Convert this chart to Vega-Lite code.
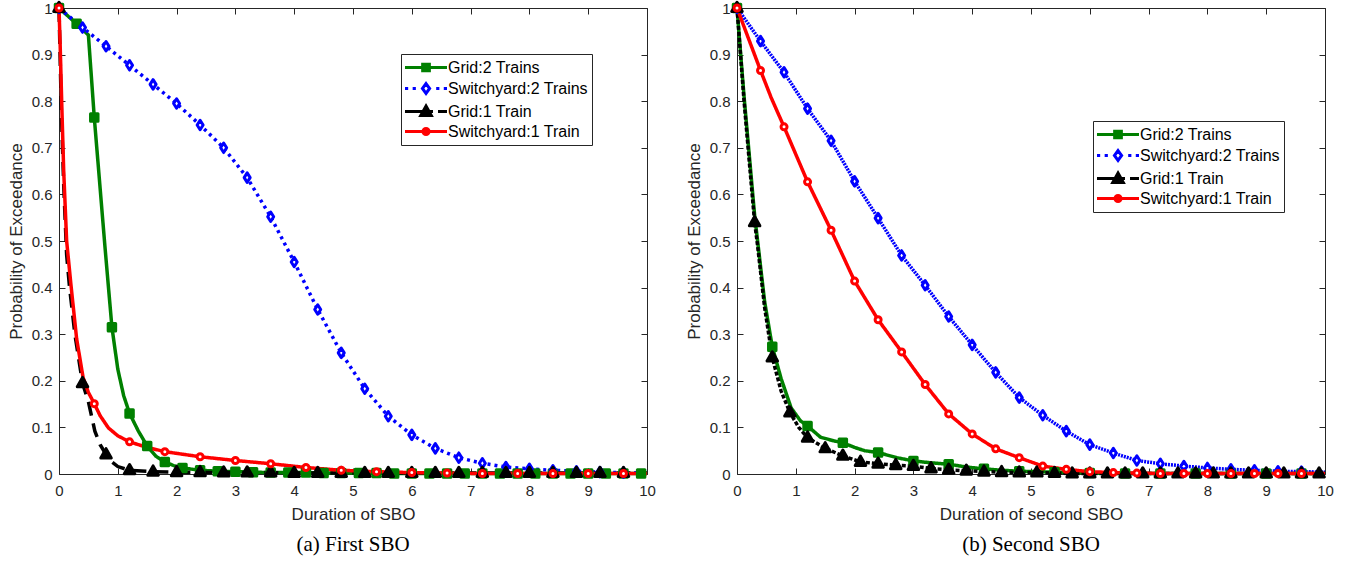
{
  "$schema": "https://vega.github.io/schema/vega-lite/v6.json",
  "background": "white",
  "padding": {"left": 6, "top": 0, "right": 10, "bottom": 5},
  "spacing": 28,
  "config": {
    "view": {"stroke": "#262626", "strokeWidth": 1},
    "font": "Liberation Sans",
    "axis": {"grid": false, "domain": false, "tickColor": "#262626", "tickSize": -6, "tickWidth": 1, "labelColor": "#262626", "labelFont": "Liberation Sans", "labelFontSize": 15, "labelFlush": false, "labelOverlap": false, "titleFont": "Liberation Sans", "titleFontSize": 17, "titleFontWeight": "normal", "titleColor": "#262626"},
    "title": {"font": "Liberation Serif", "fontSize": 21, "fontWeight": "normal", "color": "black"}
  },
  "datasets": {
    "a_curve": [
      {"series":"Grid:2 Trains","x":0,"p":1},{"series":"Grid:2 Trains","x":0.3,"p":0.966},{"series":"Grid:2 Trains","x":0.5,"p":0.942},{"series":"Grid:2 Trains","x":0.6,"p":0.765},{"series":"Grid:2 Trains","x":0.78,"p":0.49},{"series":"Grid:2 Trains","x":0.9,"p":0.315},{"series":"Grid:2 Trains","x":1.0,"p":0.225},{"series":"Grid:2 Trains","x":1.1,"p":0.168},{"series":"Grid:2 Trains","x":1.2,"p":0.13},{"series":"Grid:2 Trains","x":1.35,"p":0.092},{"series":"Grid:2 Trains","x":1.5,"p":0.06},{"series":"Grid:2 Trains","x":1.65,"p":0.038},{"series":"Grid:2 Trains","x":1.8,"p":0.026},{"series":"Grid:2 Trains","x":1.95,"p":0.018},{"series":"Grid:2 Trains","x":2.1,"p":0.013},{"series":"Grid:2 Trains","x":2.4,"p":0.008},{"series":"Grid:2 Trains","x":2.7,"p":0.006},{"series":"Grid:2 Trains","x":3.0,"p":0.005},{"series":"Grid:2 Trains","x":3.3,"p":0.004},{"series":"Grid:2 Trains","x":3.6,"p":0.003},{"series":"Grid:2 Trains","x":4.2,"p":0.003},{"series":"Grid:2 Trains","x":4.5,"p":0.002},{"series":"Grid:2 Trains","x":5.4,"p":0.002},{"series":"Grid:2 Trains","x":5.7,"p":0.001},{"series":"Grid:2 Trains","x":10,"p":0.001},
      {"series":"Switchyard:2 Trains","x":0,"p":1},{"series":"Switchyard:2 Trains","x":0.4,"p":0.958},{"series":"Switchyard:2 Trains","x":0.8,"p":0.918},{"series":"Switchyard:2 Trains","x":1.2,"p":0.877},{"series":"Switchyard:2 Trains","x":1.6,"p":0.836},{"series":"Switchyard:2 Trains","x":2.0,"p":0.795},{"series":"Switchyard:2 Trains","x":2.4,"p":0.749},{"series":"Switchyard:2 Trains","x":2.8,"p":0.7},{"series":"Switchyard:2 Trains","x":3.2,"p":0.636},{"series":"Switchyard:2 Trains","x":3.6,"p":0.552},{"series":"Switchyard:2 Trains","x":4.0,"p":0.455},{"series":"Switchyard:2 Trains","x":4.4,"p":0.353},{"series":"Switchyard:2 Trains","x":4.8,"p":0.26},{"series":"Switchyard:2 Trains","x":5.2,"p":0.183},{"series":"Switchyard:2 Trains","x":5.6,"p":0.124},{"series":"Switchyard:2 Trains","x":6.0,"p":0.084},{"series":"Switchyard:2 Trains","x":6.4,"p":0.055},{"series":"Switchyard:2 Trains","x":6.8,"p":0.035},{"series":"Switchyard:2 Trains","x":7.2,"p":0.023},{"series":"Switchyard:2 Trains","x":7.6,"p":0.015},{"series":"Switchyard:2 Trains","x":8.0,"p":0.011},{"series":"Switchyard:2 Trains","x":8.4,"p":0.008},{"series":"Switchyard:2 Trains","x":8.8,"p":0.006},{"series":"Switchyard:2 Trains","x":9.2,"p":0.004},{"series":"Switchyard:2 Trains","x":9.6,"p":0.003},{"series":"Switchyard:2 Trains","x":10,"p":0.002},
      {"series":"Grid:1 Train","x":0,"p":1},{"series":"Grid:1 Train","x":0.04,"p":0.78},{"series":"Grid:1 Train","x":0.08,"p":0.62},{"series":"Grid:1 Train","x":0.13,"p":0.47},{"series":"Grid:1 Train","x":0.18,"p":0.4},{"series":"Grid:1 Train","x":0.27,"p":0.3},{"series":"Grid:1 Train","x":0.4,"p":0.195},{"series":"Grid:1 Train","x":0.5,"p":0.155},{"series":"Grid:1 Train","x":0.61,"p":0.092},{"series":"Grid:1 Train","x":0.7,"p":0.063},{"series":"Grid:1 Train","x":0.8,"p":0.042},{"series":"Grid:1 Train","x":0.9,"p":0.026},{"series":"Grid:1 Train","x":1.0,"p":0.016},{"series":"Grid:1 Train","x":1.2,"p":0.008},{"series":"Grid:1 Train","x":1.6,"p":0.005},{"series":"Grid:1 Train","x":2.0,"p":0.004},{"series":"Grid:1 Train","x":2.4,"p":0.004},{"series":"Grid:1 Train","x":2.8,"p":0.003},{"series":"Grid:1 Train","x":3.6,"p":0.003},{"series":"Grid:1 Train","x":4.0,"p":0.002},{"series":"Grid:1 Train","x":10,"p":0.002},
      {"series":"Switchyard:1 Train","x":0,"p":1},{"series":"Switchyard:1 Train","x":0.02,"p":0.92},{"series":"Switchyard:1 Train","x":0.05,"p":0.78},{"series":"Switchyard:1 Train","x":0.08,"p":0.65},{"series":"Switchyard:1 Train","x":0.13,"p":0.5},{"series":"Switchyard:1 Train","x":0.2,"p":0.41},{"series":"Switchyard:1 Train","x":0.3,"p":0.29},{"series":"Switchyard:1 Train","x":0.41,"p":0.207},{"series":"Switchyard:1 Train","x":0.5,"p":0.175},{"series":"Switchyard:1 Train","x":0.6,"p":0.151},{"series":"Switchyard:1 Train","x":0.7,"p":0.125},{"series":"Switchyard:1 Train","x":0.84,"p":0.099},{"series":"Switchyard:1 Train","x":1.0,"p":0.082},{"series":"Switchyard:1 Train","x":1.2,"p":0.069},{"series":"Switchyard:1 Train","x":1.5,"p":0.057},{"series":"Switchyard:1 Train","x":1.8,"p":0.048},{"series":"Switchyard:1 Train","x":2.4,"p":0.037},{"series":"Switchyard:1 Train","x":3.0,"p":0.029},{"series":"Switchyard:1 Train","x":3.6,"p":0.022},{"series":"Switchyard:1 Train","x":4.2,"p":0.014},{"series":"Switchyard:1 Train","x":4.8,"p":0.008},{"series":"Switchyard:1 Train","x":5.4,"p":0.005},{"series":"Switchyard:1 Train","x":6.0,"p":0.003},{"series":"Switchyard:1 Train","x":6.6,"p":0.002},{"series":"Switchyard:1 Train","x":7.2,"p":0.001},{"series":"Switchyard:1 Train","x":10,"p":0.001}
    ],
    "a_mark": [
      {"series":"Grid:2 Trains","x":0,"p":1},{"series":"Grid:2 Trains","x":0.3,"p":0.966},{"series":"Grid:2 Trains","x":0.6,"p":0.765},{"series":"Grid:2 Trains","x":0.9,"p":0.315},{"series":"Grid:2 Trains","x":1.2,"p":0.13},{"series":"Grid:2 Trains","x":1.5,"p":0.06},{"series":"Grid:2 Trains","x":1.8,"p":0.026},{"series":"Grid:2 Trains","x":2.1,"p":0.013},{"series":"Grid:2 Trains","x":2.4,"p":0.008},{"series":"Grid:2 Trains","x":2.7,"p":0.006},{"series":"Grid:2 Trains","x":3.0,"p":0.005},{"series":"Grid:2 Trains","x":3.3,"p":0.004},{"series":"Grid:2 Trains","x":3.6,"p":0.003},{"series":"Grid:2 Trains","x":3.9,"p":0.003},{"series":"Grid:2 Trains","x":4.2,"p":0.003},{"series":"Grid:2 Trains","x":4.5,"p":0.002},{"series":"Grid:2 Trains","x":4.8,"p":0.002},{"series":"Grid:2 Trains","x":5.1,"p":0.002},{"series":"Grid:2 Trains","x":5.4,"p":0.002},{"series":"Grid:2 Trains","x":5.7,"p":0.001},{"series":"Grid:2 Trains","x":6.0,"p":0.001},{"series":"Grid:2 Trains","x":6.3,"p":0.001},{"series":"Grid:2 Trains","x":6.6,"p":0.001},{"series":"Grid:2 Trains","x":6.9,"p":0.001},{"series":"Grid:2 Trains","x":7.2,"p":0.001},{"series":"Grid:2 Trains","x":7.5,"p":0.001},{"series":"Grid:2 Trains","x":7.8,"p":0.001},{"series":"Grid:2 Trains","x":8.1,"p":0.001},{"series":"Grid:2 Trains","x":8.4,"p":0.001},{"series":"Grid:2 Trains","x":8.7,"p":0.001},{"series":"Grid:2 Trains","x":9.0,"p":0.001},{"series":"Grid:2 Trains","x":9.3,"p":0.001},{"series":"Grid:2 Trains","x":9.6,"p":0.001},{"series":"Grid:2 Trains","x":9.9,"p":0.001},
      {"series":"Switchyard:2 Trains","x":0,"p":1},{"series":"Switchyard:2 Trains","x":0.4,"p":0.958},{"series":"Switchyard:2 Trains","x":0.8,"p":0.918},{"series":"Switchyard:2 Trains","x":1.2,"p":0.877},{"series":"Switchyard:2 Trains","x":1.6,"p":0.836},{"series":"Switchyard:2 Trains","x":2.0,"p":0.795},{"series":"Switchyard:2 Trains","x":2.4,"p":0.749},{"series":"Switchyard:2 Trains","x":2.8,"p":0.7},{"series":"Switchyard:2 Trains","x":3.2,"p":0.636},{"series":"Switchyard:2 Trains","x":3.6,"p":0.552},{"series":"Switchyard:2 Trains","x":4.0,"p":0.455},{"series":"Switchyard:2 Trains","x":4.4,"p":0.353},{"series":"Switchyard:2 Trains","x":4.8,"p":0.26},{"series":"Switchyard:2 Trains","x":5.2,"p":0.183},{"series":"Switchyard:2 Trains","x":5.6,"p":0.124},{"series":"Switchyard:2 Trains","x":6.0,"p":0.084},{"series":"Switchyard:2 Trains","x":6.4,"p":0.055},{"series":"Switchyard:2 Trains","x":6.8,"p":0.035},{"series":"Switchyard:2 Trains","x":7.2,"p":0.023},{"series":"Switchyard:2 Trains","x":7.6,"p":0.015},{"series":"Switchyard:2 Trains","x":8.0,"p":0.011},{"series":"Switchyard:2 Trains","x":8.4,"p":0.008},{"series":"Switchyard:2 Trains","x":8.8,"p":0.006},{"series":"Switchyard:2 Trains","x":9.2,"p":0.004},{"series":"Switchyard:2 Trains","x":9.6,"p":0.003},
      {"series":"Grid:1 Train","x":0,"p":1},{"series":"Grid:1 Train","x":0.4,"p":0.195},{"series":"Grid:1 Train","x":0.8,"p":0.042},{"series":"Grid:1 Train","x":1.2,"p":0.008},{"series":"Grid:1 Train","x":1.6,"p":0.005},{"series":"Grid:1 Train","x":2.0,"p":0.004},{"series":"Grid:1 Train","x":2.4,"p":0.004},{"series":"Grid:1 Train","x":2.8,"p":0.003},{"series":"Grid:1 Train","x":3.2,"p":0.003},{"series":"Grid:1 Train","x":3.6,"p":0.003},{"series":"Grid:1 Train","x":4.0,"p":0.002},{"series":"Grid:1 Train","x":4.4,"p":0.002},{"series":"Grid:1 Train","x":4.8,"p":0.002},{"series":"Grid:1 Train","x":5.2,"p":0.002},{"series":"Grid:1 Train","x":5.6,"p":0.002},{"series":"Grid:1 Train","x":6.0,"p":0.002},{"series":"Grid:1 Train","x":6.4,"p":0.002},{"series":"Grid:1 Train","x":6.8,"p":0.002},{"series":"Grid:1 Train","x":7.2,"p":0.002},{"series":"Grid:1 Train","x":7.6,"p":0.002},{"series":"Grid:1 Train","x":8.0,"p":0.002},{"series":"Grid:1 Train","x":8.4,"p":0.002},{"series":"Grid:1 Train","x":8.8,"p":0.002},{"series":"Grid:1 Train","x":9.2,"p":0.002},{"series":"Grid:1 Train","x":9.6,"p":0.002},
      {"series":"Switchyard:1 Train","x":0,"p":1},{"series":"Switchyard:1 Train","x":0.6,"p":0.151},{"series":"Switchyard:1 Train","x":1.2,"p":0.069},{"series":"Switchyard:1 Train","x":1.8,"p":0.048},{"series":"Switchyard:1 Train","x":2.4,"p":0.037},{"series":"Switchyard:1 Train","x":3.0,"p":0.029},{"series":"Switchyard:1 Train","x":3.6,"p":0.022},{"series":"Switchyard:1 Train","x":4.2,"p":0.014},{"series":"Switchyard:1 Train","x":4.8,"p":0.008},{"series":"Switchyard:1 Train","x":5.4,"p":0.005},{"series":"Switchyard:1 Train","x":6.0,"p":0.003},{"series":"Switchyard:1 Train","x":6.6,"p":0.002},{"series":"Switchyard:1 Train","x":7.2,"p":0.001},{"series":"Switchyard:1 Train","x":7.8,"p":0.001},{"series":"Switchyard:1 Train","x":8.4,"p":0.001},{"series":"Switchyard:1 Train","x":9.0,"p":0.001},{"series":"Switchyard:1 Train","x":9.6,"p":0.001}
    ],
    "b_curve": [
      {"series":"Grid:2 Trains","x":0,"p":1},{"series":"Grid:2 Trains","x":0.12,"p":0.81},{"series":"Grid:2 Trains","x":0.24,"p":0.64},{"series":"Grid:2 Trains","x":0.3,"p":0.555},{"series":"Grid:2 Trains","x":0.47,"p":0.37},{"series":"Grid:2 Trains","x":0.6,"p":0.273},{"series":"Grid:2 Trains","x":0.75,"p":0.205},{"series":"Grid:2 Trains","x":0.92,"p":0.142},{"series":"Grid:2 Trains","x":1.08,"p":0.114},{"series":"Grid:2 Trains","x":1.2,"p":0.103},{"series":"Grid:2 Trains","x":1.42,"p":0.079},{"series":"Grid:2 Trains","x":1.65,"p":0.071},{"series":"Grid:2 Trains","x":1.8,"p":0.067},{"series":"Grid:2 Trains","x":2.0,"p":0.057},{"series":"Grid:2 Trains","x":2.17,"p":0.05},{"series":"Grid:2 Trains","x":2.4,"p":0.046},{"series":"Grid:2 Trains","x":2.72,"p":0.035},{"series":"Grid:2 Trains","x":3.0,"p":0.028},{"series":"Grid:2 Trains","x":3.3,"p":0.024},{"series":"Grid:2 Trains","x":3.6,"p":0.021},{"series":"Grid:2 Trains","x":3.9,"p":0.015},{"series":"Grid:2 Trains","x":4.2,"p":0.011},{"series":"Grid:2 Trains","x":4.5,"p":0.008},{"series":"Grid:2 Trains","x":4.8,"p":0.006},{"series":"Grid:2 Trains","x":5.4,"p":0.004},{"series":"Grid:2 Trains","x":6.0,"p":0.002},{"series":"Grid:2 Trains","x":6.6,"p":0.001},{"series":"Grid:2 Trains","x":10,"p":0.001},
      {"series":"Switchyard:2 Trains","x":0,"p":1},{"series":"Switchyard:2 Trains","x":0.4,"p":0.929},{"series":"Switchyard:2 Trains","x":0.8,"p":0.862},{"series":"Switchyard:2 Trains","x":1.2,"p":0.784},{"series":"Switchyard:2 Trains","x":1.6,"p":0.715},{"series":"Switchyard:2 Trains","x":2.0,"p":0.628},{"series":"Switchyard:2 Trains","x":2.4,"p":0.549},{"series":"Switchyard:2 Trains","x":2.8,"p":0.469},{"series":"Switchyard:2 Trains","x":3.2,"p":0.405},{"series":"Switchyard:2 Trains","x":3.6,"p":0.338},{"series":"Switchyard:2 Trains","x":4.0,"p":0.277},{"series":"Switchyard:2 Trains","x":4.4,"p":0.218},{"series":"Switchyard:2 Trains","x":4.8,"p":0.164},{"series":"Switchyard:2 Trains","x":5.2,"p":0.126},{"series":"Switchyard:2 Trains","x":5.6,"p":0.092},{"series":"Switchyard:2 Trains","x":6.0,"p":0.063},{"series":"Switchyard:2 Trains","x":6.4,"p":0.045},{"series":"Switchyard:2 Trains","x":6.8,"p":0.029},{"series":"Switchyard:2 Trains","x":7.2,"p":0.022},{"series":"Switchyard:2 Trains","x":7.6,"p":0.017},{"series":"Switchyard:2 Trains","x":8.0,"p":0.013},{"series":"Switchyard:2 Trains","x":8.4,"p":0.01},{"series":"Switchyard:2 Trains","x":8.8,"p":0.008},{"series":"Switchyard:2 Trains","x":9.2,"p":0.006},{"series":"Switchyard:2 Trains","x":9.6,"p":0.005},{"series":"Switchyard:2 Trains","x":10,"p":0.004},
      {"series":"Grid:1 Train","x":0,"p":1},{"series":"Grid:1 Train","x":0.12,"p":0.8},{"series":"Grid:1 Train","x":0.24,"p":0.625},{"series":"Grid:1 Train","x":0.3,"p":0.54},{"series":"Grid:1 Train","x":0.35,"p":0.49},{"series":"Grid:1 Train","x":0.47,"p":0.357},{"series":"Grid:1 Train","x":0.6,"p":0.25},{"series":"Grid:1 Train","x":0.75,"p":0.178},{"series":"Grid:1 Train","x":0.9,"p":0.132},{"series":"Grid:1 Train","x":1.05,"p":0.1},{"series":"Grid:1 Train","x":1.2,"p":0.078},{"series":"Grid:1 Train","x":1.5,"p":0.055},{"series":"Grid:1 Train","x":1.8,"p":0.039},{"series":"Grid:1 Train","x":2.1,"p":0.026},{"series":"Grid:1 Train","x":2.4,"p":0.022},{"series":"Grid:1 Train","x":2.7,"p":0.019},{"series":"Grid:1 Train","x":3.0,"p":0.017},{"series":"Grid:1 Train","x":3.3,"p":0.012},{"series":"Grid:1 Train","x":3.6,"p":0.009},{"series":"Grid:1 Train","x":3.9,"p":0.007},{"series":"Grid:1 Train","x":4.2,"p":0.005},{"series":"Grid:1 Train","x":4.5,"p":0.004},{"series":"Grid:1 Train","x":4.8,"p":0.003},{"series":"Grid:1 Train","x":5.1,"p":0.003},{"series":"Grid:1 Train","x":5.4,"p":0.002},{"series":"Grid:1 Train","x":5.7,"p":0.001},{"series":"Grid:1 Train","x":10,"p":0.001},
      {"series":"Switchyard:1 Train","x":0,"p":1},{"series":"Switchyard:1 Train","x":0.4,"p":0.866},{"series":"Switchyard:1 Train","x":0.58,"p":0.808},{"series":"Switchyard:1 Train","x":0.8,"p":0.745},{"series":"Switchyard:1 Train","x":1.2,"p":0.627},{"series":"Switchyard:1 Train","x":1.6,"p":0.523},{"series":"Switchyard:1 Train","x":2.0,"p":0.414},{"series":"Switchyard:1 Train","x":2.4,"p":0.331},{"series":"Switchyard:1 Train","x":2.8,"p":0.262},{"series":"Switchyard:1 Train","x":3.2,"p":0.192},{"series":"Switchyard:1 Train","x":3.6,"p":0.129},{"series":"Switchyard:1 Train","x":4.0,"p":0.086},{"series":"Switchyard:1 Train","x":4.4,"p":0.054},{"series":"Switchyard:1 Train","x":4.8,"p":0.035},{"series":"Switchyard:1 Train","x":5.2,"p":0.017},{"series":"Switchyard:1 Train","x":5.6,"p":0.01},{"series":"Switchyard:1 Train","x":6.0,"p":0.005},{"series":"Switchyard:1 Train","x":6.4,"p":0.003},{"series":"Switchyard:1 Train","x":6.8,"p":0.002},{"series":"Switchyard:1 Train","x":7.2,"p":0.001},{"series":"Switchyard:1 Train","x":10,"p":0.001}
    ],
    "b_mark": [
      {"series":"Grid:2 Trains","x":0,"p":1},{"series":"Grid:2 Trains","x":0.6,"p":0.273},{"series":"Grid:2 Trains","x":1.2,"p":0.103},{"series":"Grid:2 Trains","x":1.8,"p":0.067},{"series":"Grid:2 Trains","x":2.4,"p":0.046},{"series":"Grid:2 Trains","x":3.0,"p":0.028},{"series":"Grid:2 Trains","x":3.6,"p":0.021},{"series":"Grid:2 Trains","x":4.2,"p":0.011},{"series":"Grid:2 Trains","x":4.8,"p":0.006},{"series":"Grid:2 Trains","x":5.4,"p":0.004},{"series":"Grid:2 Trains","x":6.0,"p":0.002},{"series":"Grid:2 Trains","x":6.6,"p":0.001},{"series":"Grid:2 Trains","x":7.2,"p":0.001},{"series":"Grid:2 Trains","x":7.8,"p":0.001},{"series":"Grid:2 Trains","x":8.4,"p":0.001},{"series":"Grid:2 Trains","x":9.0,"p":0.001},{"series":"Grid:2 Trains","x":9.6,"p":0.001},
      {"series":"Switchyard:2 Trains","x":0,"p":1},{"series":"Switchyard:2 Trains","x":0.4,"p":0.929},{"series":"Switchyard:2 Trains","x":0.8,"p":0.862},{"series":"Switchyard:2 Trains","x":1.2,"p":0.784},{"series":"Switchyard:2 Trains","x":1.6,"p":0.715},{"series":"Switchyard:2 Trains","x":2.0,"p":0.628},{"series":"Switchyard:2 Trains","x":2.4,"p":0.549},{"series":"Switchyard:2 Trains","x":2.8,"p":0.469},{"series":"Switchyard:2 Trains","x":3.2,"p":0.405},{"series":"Switchyard:2 Trains","x":3.6,"p":0.338},{"series":"Switchyard:2 Trains","x":4.0,"p":0.277},{"series":"Switchyard:2 Trains","x":4.4,"p":0.218},{"series":"Switchyard:2 Trains","x":4.8,"p":0.164},{"series":"Switchyard:2 Trains","x":5.2,"p":0.126},{"series":"Switchyard:2 Trains","x":5.6,"p":0.092},{"series":"Switchyard:2 Trains","x":6.0,"p":0.063},{"series":"Switchyard:2 Trains","x":6.4,"p":0.045},{"series":"Switchyard:2 Trains","x":6.8,"p":0.029},{"series":"Switchyard:2 Trains","x":7.2,"p":0.022},{"series":"Switchyard:2 Trains","x":7.6,"p":0.017},{"series":"Switchyard:2 Trains","x":8.0,"p":0.013},{"series":"Switchyard:2 Trains","x":8.4,"p":0.01},{"series":"Switchyard:2 Trains","x":8.8,"p":0.008},{"series":"Switchyard:2 Trains","x":9.2,"p":0.006},{"series":"Switchyard:2 Trains","x":9.6,"p":0.005},
      {"series":"Grid:1 Train","x":0,"p":1},{"series":"Grid:1 Train","x":0.3,"p":0.54},{"series":"Grid:1 Train","x":0.6,"p":0.25},{"series":"Grid:1 Train","x":0.9,"p":0.132},{"series":"Grid:1 Train","x":1.2,"p":0.078},{"series":"Grid:1 Train","x":1.5,"p":0.055},{"series":"Grid:1 Train","x":1.8,"p":0.039},{"series":"Grid:1 Train","x":2.1,"p":0.026},{"series":"Grid:1 Train","x":2.4,"p":0.022},{"series":"Grid:1 Train","x":2.7,"p":0.019},{"series":"Grid:1 Train","x":3.0,"p":0.017},{"series":"Grid:1 Train","x":3.3,"p":0.012},{"series":"Grid:1 Train","x":3.6,"p":0.009},{"series":"Grid:1 Train","x":3.9,"p":0.007},{"series":"Grid:1 Train","x":4.2,"p":0.005},{"series":"Grid:1 Train","x":4.5,"p":0.004},{"series":"Grid:1 Train","x":4.8,"p":0.003},{"series":"Grid:1 Train","x":5.1,"p":0.003},{"series":"Grid:1 Train","x":5.4,"p":0.002},{"series":"Grid:1 Train","x":5.7,"p":0.001},{"series":"Grid:1 Train","x":6.0,"p":0.001},{"series":"Grid:1 Train","x":6.3,"p":0.001},{"series":"Grid:1 Train","x":6.6,"p":0.001},{"series":"Grid:1 Train","x":6.9,"p":0.001},{"series":"Grid:1 Train","x":7.2,"p":0.001},{"series":"Grid:1 Train","x":7.5,"p":0.001},{"series":"Grid:1 Train","x":7.8,"p":0.001},{"series":"Grid:1 Train","x":8.1,"p":0.001},{"series":"Grid:1 Train","x":8.4,"p":0.001},{"series":"Grid:1 Train","x":8.7,"p":0.001},{"series":"Grid:1 Train","x":9.0,"p":0.001},{"series":"Grid:1 Train","x":9.3,"p":0.001},{"series":"Grid:1 Train","x":9.6,"p":0.001},{"series":"Grid:1 Train","x":9.9,"p":0.001},
      {"series":"Switchyard:1 Train","x":0,"p":1},{"series":"Switchyard:1 Train","x":0.4,"p":0.866},{"series":"Switchyard:1 Train","x":0.8,"p":0.745},{"series":"Switchyard:1 Train","x":1.2,"p":0.627},{"series":"Switchyard:1 Train","x":1.6,"p":0.523},{"series":"Switchyard:1 Train","x":2.0,"p":0.414},{"series":"Switchyard:1 Train","x":2.4,"p":0.331},{"series":"Switchyard:1 Train","x":2.8,"p":0.262},{"series":"Switchyard:1 Train","x":3.2,"p":0.192},{"series":"Switchyard:1 Train","x":3.6,"p":0.129},{"series":"Switchyard:1 Train","x":4.0,"p":0.086},{"series":"Switchyard:1 Train","x":4.4,"p":0.054},{"series":"Switchyard:1 Train","x":4.8,"p":0.035},{"series":"Switchyard:1 Train","x":5.2,"p":0.017},{"series":"Switchyard:1 Train","x":5.6,"p":0.01},{"series":"Switchyard:1 Train","x":6.0,"p":0.005},{"series":"Switchyard:1 Train","x":6.4,"p":0.003},{"series":"Switchyard:1 Train","x":6.8,"p":0.002},{"series":"Switchyard:1 Train","x":7.2,"p":0.001},{"series":"Switchyard:1 Train","x":7.6,"p":0.001},{"series":"Switchyard:1 Train","x":8.0,"p":0.001},{"series":"Switchyard:1 Train","x":8.4,"p":0.001},{"series":"Switchyard:1 Train","x":8.8,"p":0.001},{"series":"Switchyard:1 Train","x":9.2,"p":0.001},{"series":"Switchyard:1 Train","x":9.6,"p":0.001}
    ]
  },
  "resolve": {"scale": {"x": "independent", "y": "independent", "color": "independent", "strokeDash": "independent", "shape": "independent", "fill": "independent", "stroke": "independent"}, "legend": {"color": "independent"}},
  "hconcat": [
    {
      "title": {"text": "(a) First SBO", "orient": "bottom", "anchor": "middle", "offset": 12},
      "width": 588,
      "height": 466,
      "resolve": {"axis": {"x": "independent", "y": "independent"}},
      "layer": [
        {
          "data": {"name": "a_curve"},
          "mark": {"type": "line", "strokeWidth": 3.5},
          "encoding": {
            "x": {"field": "x", "type": "quantitative", "scale": {"domain": [0, 10], "nice": false, "zero": false}, "axis": {"values": [0,1,2,3,4,5,6,7,8,9,10], "title": "Duration of SBO", "labelPadding": 15, "titlePadding": 8}},
            "y": {"field": "p", "type": "quantitative", "scale": {"domain": [0, 1], "nice": false}, "axis": {"values": [0,0.1,0.2,0.3,0.4,0.5,0.6,0.7,0.8,0.9,1], "format": "~g", "title": "Probability of Exceedance", "labelPadding": 13, "titlePadding": 6}},
            "color": {
              "field": "series", "type": "nominal",
              "scale": {"domain": ["Grid:2 Trains", "Switchyard:2 Trains", "Grid:1 Train", "Switchyard:1 Train"], "range": ["#008000", "#0000ff", "#000000", "#ff0000"]},
              "legend": {
                "orient": "none", "legendX": 342, "legendY": 46, "title": null,
                "symbolSize": 256, "symbolStrokeWidth": 3, "labelOffset": 24, "labelFont": "Liberation Sans", "labelFontSize": 16, "labelColor": "black",
                "padding": 4, "rowPadding": 0, "strokeColor": "#262626", "fillColor": "white",
                "encoding": {
                  "symbols": {
                    "shape": {"value": {"expr": "datum.value === 'Grid:2 Trains' ? 'M-1.19,0L4.06,0M1.02,-0.42L1.86,-0.42L1.86,0.42L1.02,0.42Z' : datum.value === 'Switchyard:2 Trains' ? 'M-1.19,0L-0.79,0M-0.23,0L0.17,0M2.71,0L3.11,0M3.66,0L4.06,0M1.44,-0.62L1.89,0L1.44,0.62L0.99,0Z' : datum.value === 'Grid:1 Train' ? 'M-1.19,0L2.31,0M2.94,0L4.06,0M1.44,-0.68L2.1,0.5L0.78,0.5Z' : 'M-1.19,0L4.06,0M1.06,0A0.38,0.38 0 1,1 1.82,0A0.38,0.38 0 1,1 1.06,0Z'"}},
                    "fill": {"value": {"expr": "datum.value === 'Grid:2 Trains' ? '#008000' : datum.value === 'Grid:1 Train' ? '#000000' : '#ffffff'"}},
                    "stroke": {"value": {"expr": "datum.value === 'Grid:2 Trains' ? '#008000' : datum.value === 'Switchyard:2 Trains' ? '#0000ff' : datum.value === 'Grid:1 Train' ? '#000000' : '#ff0000'"}},
                    "strokeWidth": {"value": 3},
                    "opacity": {"value": 1}
                  }
                }
              }
            },
            "strokeDash": {"field": "series", "type": "nominal", "scale": {"domain": ["Switchyard:1 Train", "Grid:1 Train", "Switchyard:2 Trains", "Grid:2 Trains"], "range": [[1, 0], [14, 8], [3, 4], [1, 0]]}, "legend": null}
          }
        },
        {
          "data": {"name": "a_mark"},
          "mark": {"type": "point", "filled": true, "size": 100, "strokeWidth": 3, "strokeJoin": "round", "opacity": 1},
          "encoding": {
            "x": {"field": "x", "type": "quantitative", "scale": {"domain": [0, 10], "nice": false, "zero": false}, "axis": {"orient": "top", "values": [0,1,2,3,4,5,6,7,8,9,10], "labels": false, "title": null}},
            "y": {"field": "p", "type": "quantitative", "scale": {"domain": [0, 1], "nice": false}, "axis": {"orient": "right", "values": [0,0.1,0.2,0.3,0.4,0.5,0.6,0.7,0.8,0.9,1], "labels": false, "title": null}},
            "shape": {"field": "series", "type": "nominal", "scale": {"domain": ["Grid:1 Train", "Grid:2 Trains", "Switchyard:1 Train", "Switchyard:2 Trains"], "range": ["M0,-1.15L1.05,0.7L-1.05,0.7Z", "M-0.75,-0.75L0.75,-0.75L0.75,0.75L-0.75,0.75Z", "M-0.6,0A0.6,0.6 0 1,1 0.6,0A0.6,0.6 0 1,1 -0.6,0Z", "M0,-0.95L0.6,0L0,0.95L-0.6,0Z"]}, "legend": null},
            "fill": {"field": "series", "type": "nominal", "scale": {"domain": ["Switchyard:2 Trains", "Switchyard:1 Train", "Grid:2 Trains", "Grid:1 Train"], "range": ["#ffffff", "#ffffff", "#008000", "#000000"]}, "legend": null},
            "stroke": {"field": "series", "type": "nominal", "scale": {"domain": ["Switchyard:1 Train", "Switchyard:2 Trains", "Grid:1 Train", "Grid:2 Trains"], "range": ["#ff0000", "#0000ff", "#000000", "#008000"]}, "legend": null}
          }
        }
      ]
    },
    {
      "title": {"text": "(b) Second SBO", "orient": "bottom", "anchor": "middle", "offset": 12},
      "width": 588,
      "height": 466,
      "resolve": {"axis": {"x": "independent", "y": "independent"}},
      "layer": [
        {
          "data": {"name": "b_curve"},
          "mark": {"type": "line", "strokeWidth": 3.5},
          "encoding": {
            "x": {"field": "x", "type": "quantitative", "scale": {"domain": [0, 10], "nice": false, "zero": false}, "axis": {"values": [0,1,2,3,4,5,6,7,8,9,10], "title": "Duration of second SBO", "labelPadding": 15, "titlePadding": 8}},
            "y": {"field": "p", "type": "quantitative", "scale": {"domain": [0, 1], "nice": false}, "axis": {"values": [0,0.1,0.2,0.3,0.4,0.5,0.6,0.7,0.8,0.9,1], "format": "~g", "title": "Probability of Exceedance", "labelPadding": 13, "titlePadding": 6}},
            "color": {
              "field": "series", "type": "nominal",
              "scale": {"domain": ["Grid:2 Trains", "Switchyard:2 Trains", "Grid:1 Train", "Switchyard:1 Train"], "range": ["#008000", "#0000ff", "#000000", "#ff0000"]},
              "legend": {
                "orient": "none", "legendX": 356, "legendY": 113, "title": null,
                "symbolSize": 256, "symbolStrokeWidth": 3, "labelOffset": 24, "labelFont": "Liberation Sans", "labelFontSize": 16, "labelColor": "black",
                "padding": 4, "rowPadding": 0, "strokeColor": "#262626", "fillColor": "white",
                "encoding": {
                  "symbols": {
                    "shape": {"value": {"expr": "datum.value === 'Grid:2 Trains' ? 'M-1.19,0L4.06,0M1.02,-0.42L1.86,-0.42L1.86,0.42L1.02,0.42Z' : datum.value === 'Switchyard:2 Trains' ? 'M-1.19,0L-0.79,0M-0.23,0L0.17,0M2.71,0L3.11,0M3.66,0L4.06,0M1.44,-0.62L1.89,0L1.44,0.62L0.99,0Z' : datum.value === 'Grid:1 Train' ? 'M-1.19,0L2.31,0M2.94,0L4.06,0M1.44,-0.68L2.1,0.5L0.78,0.5Z' : 'M-1.19,0L4.06,0M1.06,0A0.38,0.38 0 1,1 1.82,0A0.38,0.38 0 1,1 1.06,0Z'"}},
                    "fill": {"value": {"expr": "datum.value === 'Grid:2 Trains' ? '#008000' : datum.value === 'Grid:1 Train' ? '#000000' : '#ffffff'"}},
                    "stroke": {"value": {"expr": "datum.value === 'Grid:2 Trains' ? '#008000' : datum.value === 'Switchyard:2 Trains' ? '#0000ff' : datum.value === 'Grid:1 Train' ? '#000000' : '#ff0000'"}},
                    "strokeWidth": {"value": 3},
                    "opacity": {"value": 1}
                  }
                }
              }
            },
            "strokeDash": {"field": "series", "type": "nominal", "scale": {"domain": ["Switchyard:1 Train", "Grid:1 Train", "Switchyard:2 Trains", "Grid:2 Trains"], "range": [[1, 0], [4, 2], [2, 1], [1, 0]]}, "legend": null}
          }
        },
        {
          "data": {"name": "b_mark"},
          "mark": {"type": "point", "filled": true, "size": 100, "strokeWidth": 3, "strokeJoin": "round", "opacity": 1},
          "encoding": {
            "x": {"field": "x", "type": "quantitative", "scale": {"domain": [0, 10], "nice": false, "zero": false}, "axis": {"orient": "top", "values": [0,1,2,3,4,5,6,7,8,9,10], "labels": false, "title": null}},
            "y": {"field": "p", "type": "quantitative", "scale": {"domain": [0, 1], "nice": false}, "axis": {"orient": "right", "values": [0,0.1,0.2,0.3,0.4,0.5,0.6,0.7,0.8,0.9,1], "labels": false, "title": null}},
            "shape": {"field": "series", "type": "nominal", "scale": {"domain": ["Grid:1 Train", "Grid:2 Trains", "Switchyard:1 Train", "Switchyard:2 Trains"], "range": ["M0,-1.15L1.05,0.7L-1.05,0.7Z", "M-0.75,-0.75L0.75,-0.75L0.75,0.75L-0.75,0.75Z", "M-0.6,0A0.6,0.6 0 1,1 0.6,0A0.6,0.6 0 1,1 -0.6,0Z", "M0,-0.95L0.6,0L0,0.95L-0.6,0Z"]}, "legend": null},
            "fill": {"field": "series", "type": "nominal", "scale": {"domain": ["Switchyard:2 Trains", "Switchyard:1 Train", "Grid:2 Trains", "Grid:1 Train"], "range": ["#ffffff", "#ffffff", "#008000", "#000000"]}, "legend": null},
            "stroke": {"field": "series", "type": "nominal", "scale": {"domain": ["Switchyard:1 Train", "Switchyard:2 Trains", "Grid:1 Train", "Grid:2 Trains"], "range": ["#ff0000", "#0000ff", "#000000", "#008000"]}, "legend": null}
          }
        }
      ]
    }
  ]
}
